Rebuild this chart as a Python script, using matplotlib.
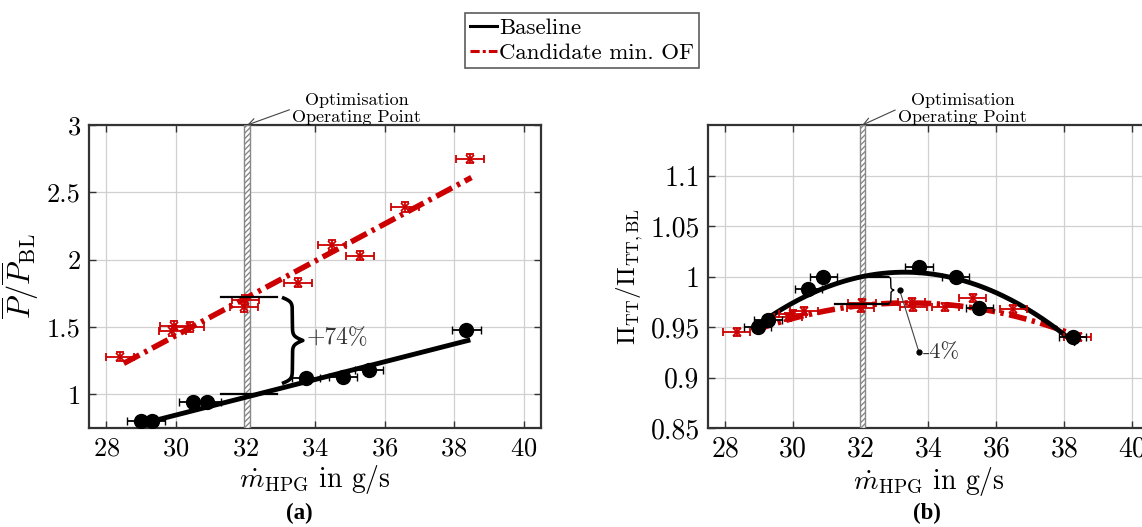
import numpy as np
import matplotlib
matplotlib.use("Agg")
import matplotlib.pyplot as plt
from matplotlib.ticker import FuncFormatter
from matplotlib.lines import Line2D

plt.rcParams['font.family'] = ['cmr10', 'DejaVu Serif']
plt.rcParams['mathtext.fontset'] = 'cm'
plt.rcParams['axes.unicode_minus'] = False
plt.rcParams['axes.formatter.use_mathtext'] = True

RED = '#cc0000'

# ---------------- data: panel (a) ----------------
bl_x_a = [29.0, 29.3, 30.5, 30.9, 33.75, 34.8, 35.55, 38.35]
bl_y_a = [0.80, 0.80, 0.94, 0.94, 1.12, 1.13, 1.18, 1.48]
bl_xerr_a = [0.4, 0.4, 0.4, 0.4, 0.4, 0.4, 0.4, 0.42]

cd_x_a = [28.4, 29.95, 29.9, 30.4, 32.0, 31.95, 33.5, 34.5, 35.3, 36.6, 38.45]
cd_y_a = [1.28, 1.51, 1.47, 1.50, 1.70, 1.65, 1.83, 2.11, 2.03, 2.39, 2.75]
cd_xerr_a = [0.4] * 11
cd_yerr_a = [0.035] * 11

bl_fit_x_a = [29.3, 38.4]
bl_fit_y_a = [0.80, 1.40]
cd_fit_x_a = [28.5, 38.5]
cd_fit_y_a = [1.23, 2.61]

# ---------------- data: panel (b) ----------------
bl_x_b = [28.97, 29.27, 30.45, 30.9, 33.72, 34.8, 35.5, 38.25]
bl_y_b = [0.950, 0.957, 0.988, 1.000, 1.009, 1.000, 0.969, 0.940]
bl_xerr_b = [0.4] * 8

cd_x_b = [28.35, 29.86, 30.0, 30.33, 32.04, 32.0, 33.5, 33.55, 34.5, 35.3, 36.5, 38.4]
cd_y_b = [0.945, 0.960, 0.963, 0.966, 0.974, 0.969, 0.975, 0.970, 0.970, 0.979, 0.968, 0.940]
cd_xerr_b = [0.4] * 12
cd_yerr_b = [0.004] * 12

bl_curve_x_b = [29.0, 30.5, 32.0, 33.3, 35.0, 36.5, 38.3]
bl_curve_y_b = [0.952, 0.983, 1.000, 1.005, 0.995, 0.975, 0.935]
cd_curve_x_b = [28.9, 30.5, 32.0, 33.2, 35.0, 36.5, 38.4]
cd_curve_y_b = [0.947, 0.963, 0.971, 0.973, 0.970, 0.963, 0.940]

op_point = 32.05
gain_a = (1.0, 1.72)
gain_b = (0.973, 1.0)


def brace(ax, x, y0, y1, width, lw, beta=40.0, res=401):
    s = np.linspace(0, 1, res)
    half = s[:res // 2 + 1]
    h = (1 / (1. + np.exp(-beta * (half - half[0]))) +
         1 / (1. + np.exp(-beta * (half - half[-1]))))
    h = np.concatenate((h, h[-2::-1]))
    h = (h - h.min()) / (h.max() - h.min())
    ys = y0 + s * (y1 - y0)
    xs = x + h * width
    ax.plot(xs, ys, color='black', lw=lw, solid_capstyle='butt', zorder=6)


def style_axes(ax, xlim, ylim, yticks, ylabel, ylsize, ticksize):
    ax.set_xlim(*xlim)
    ax.set_ylim(*ylim)
    ax.set_xticks([28, 30, 32, 34, 36, 38, 40])
    ax.set_yticks(yticks)
    ax.yaxis.set_major_formatter(FuncFormatter(lambda v, p: '%g' % v))
    ax.grid(True, color='#d0d0d0', lw=0.9)
    ax.set_axisbelow(True)
    ax.tick_params(direction='in', top=True, right=True, length=5,
                   width=1.0, labelsize=ticksize, color='#333333', pad=6)
    for sp in ax.spines.values():
        sp.set_linewidth(1.6)
        sp.set_color('#333333')
    ax.set_xlabel(r'$\dot{m}_{\mathrm{HPG}}$ in g/s', fontsize=20, labelpad=2)
    ax.set_ylabel(ylabel, fontsize=ylsize, labelpad=4)


def op_bar(ax, ytop, textx):
    ax.axvspan(op_point - 0.08, op_point + 0.08, facecolor='white',
               edgecolor='#888888', hatch='//////', lw=1.0, zorder=3)
    ax.annotate('Optimisation\nOperating Point', xy=(op_point, ytop),
                xytext=(textx, ytop), textcoords='data',
                ha='center', va='bottom', fontsize=13, linespacing=1.15,
                annotation_clip=False,
                arrowprops=dict(arrowstyle='->', color='#444444', lw=0.8,
                                relpos=(0.0, 0.5), shrinkA=0, shrinkB=0))


fig = plt.figure(figsize=(11.42, 5.27), dpi=100)
axa = fig.add_axes([89 / 1142, 99 / 527, 452 / 1142, 303 / 527])
axb = fig.add_axes([708 / 1142, 99 / 527, 441 / 1142, 303 / 527])

# ---- panel (a) ----
style_axes(axa, (27.5, 40.5), (0.75, 3.0), [1, 1.5, 2, 2.5, 3],
           r'$\overline{P}/\overline{P}_{\mathrm{BL}}$', 22, 19)
op_bar(axa, 3.0, 35.2)
axa.plot(cd_fit_x_a, cd_fit_y_a, color=RED, lw=4,
         linestyle=(0, (3.2, 1.0, 0.6, 1.0)), zorder=4)
axa.plot(bl_fit_x_a, bl_fit_y_a, color='black', lw=3.5, zorder=4)
axa.errorbar(cd_x_a, cd_y_a, xerr=cd_xerr_a, yerr=cd_yerr_a, fmt='x',
             color=RED, ms=6, mew=1.3, elinewidth=1.3, capsize=3, zorder=5)
axa.errorbar(bl_x_a, bl_y_a, xerr=bl_xerr_a, fmt='o', color='black',
             ms=10, elinewidth=1.3, capsize=3, zorder=5)
axa.plot([31.3, 32.9], [gain_a[1], gain_a[1]], color='black', lw=1.6, zorder=6)
axa.plot([31.3, 32.9], [gain_a[0], gain_a[0]], color='black', lw=1.6, zorder=6)
brace(axa, 33.05, 1.08, 1.72, 0.6, 2.6)
axa.text(33.75, 1.42, '+74%', fontsize=17, va='center', ha='left', color='#333333')

# ---- panel (b) ----
style_axes(axb, (27.5, 40.5), (0.85, 1.15), [0.85, 0.9, 0.95, 1, 1.05, 1.1],
           r'$\Pi_{\mathrm{TT}}/\Pi_{\mathrm{TT,BL}}$', 18, 20)
op_bar(axb, 1.15, 35.0)
xs = np.linspace(min(cd_curve_x_b), max(cd_curve_x_b), 200)
pc = np.polyfit(cd_curve_x_b, cd_curve_y_b, 2)
axb.plot(xs, np.polyval(pc, xs), color=RED, lw=4,
         linestyle=(0, (3.2, 1.0, 0.6, 1.0)), zorder=4)
xs2 = np.linspace(min(bl_curve_x_b), max(bl_curve_x_b), 200)
pb = np.polyfit(bl_curve_x_b, bl_curve_y_b, 2)
axb.plot(xs2, np.polyval(pb, xs2), color='black', lw=3.5, zorder=4)
axb.errorbar(cd_x_b, cd_y_b, xerr=cd_xerr_b, yerr=cd_yerr_b, fmt='x',
             color=RED, ms=6, mew=1.3, elinewidth=1.3, capsize=3, zorder=5)
axb.errorbar(bl_x_b, bl_y_b, xerr=bl_xerr_b, fmt='o', color='black',
             ms=10, elinewidth=1.3, capsize=3, zorder=5)
axb.plot([31.25, 32.8], [gain_b[0], gain_b[0]], color='black', lw=1.6, zorder=6)
axb.plot([32.0, 32.8], [gain_b[1], gain_b[1]], color='black', lw=1.6, zorder=6)
brace(axb, 32.8, gain_b[0], gain_b[1], 0.18, 1.0)
axb.plot([33.15, 33.72], [0.9865, 0.925], color='#444444', lw=0.8, zorder=6)
axb.plot([33.15, 33.72], [0.9865, 0.925], 'o', color='black', ms=3.5, zorder=6)
axb.text(33.82, 0.925, '-4%', fontsize=16, va='center', ha='left', color='#333333')

# ---- legend ----
handles = [Line2D([], [], color='black', lw=2.2),
           Line2D([], [], color=RED, lw=2.2, linestyle=(0, (3, 1, 1, 1)))]
leg = fig.legend(handles, ['Baseline', 'Candidate min. OF'],
                 loc='upper center', bbox_to_anchor=(582 / 1142, 1 - 13 / 527),
                 fontsize=16.5, frameon=True, fancybox=False, handlelength=1.2,
                 handletextpad=0.1, borderpad=0.2, labelspacing=0.25,
                 borderaxespad=0)
leg.get_frame().set_edgecolor('#333333')
leg.get_frame().set_linewidth(1.2)

fig.text(299 / 1142, 1 - 513 / 527, '(a)', fontsize=16.5, fontweight='bold',
         family=['Liberation Serif'], ha='center', va='center')
fig.text(927 / 1142, 1 - 513 / 527, '(b)', fontsize=16.5, fontweight='bold',
         family=['Liberation Serif'], ha='center', va='center')

fig.savefig('out.png', dpi=100)
